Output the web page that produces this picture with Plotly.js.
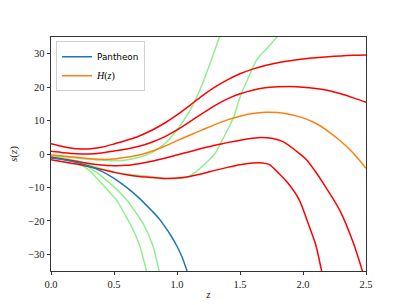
<!DOCTYPE html>
<html>
<head>
<meta charset="utf-8">
<script src="https://cdn.plot.ly/plotly-3.0.1.min.js"></script>
<style>html,body{margin:0;padding:0;background:#fff;}#chart{width:407px;height:305px;}</style>
</head>
<body>
<div id="chart"></div>
<script>
// Pantheon reconstruction
const zPan = [0, 0.1, 0.2, 0.3, 0.4, 0.5, 0.6, 0.7, 0.8, 0.85, 0.9, 0.95, 1.0, 1.04, 1.08];
const sPan = [-1.2, -1.7, -2.5, -3.6, -5.1, -7.3, -10.0, -13.2, -17.0, -19.0, -21.5, -24.3, -27.6, -30.8, -35.0];

// H(z) reconstruction
const zH = [0, 0.2, 0.4, 0.5, 0.6, 0.7, 0.8, 0.9, 1.0, 1.1, 1.2, 1.3, 1.4, 1.5, 1.6, 1.7, 1.8, 1.9, 2.0, 2.1, 2.2, 2.3, 2.4, 2.5];
const sH = [-0.3, -1.0, -1.6, -1.5, -1.0, -0.3, 0.8, 2.3, 4.0, 5.6, 7.2, 8.8, 10.2, 11.3, 12.1, 12.5, 12.4, 11.8, 10.8, 9.2, 6.8, 3.8, 0.2, -4.3];

// red bands
const zR1 = [0, 0.1, 0.2, 0.3, 0.4, 0.5, 0.6, 0.7, 0.8, 0.9, 1.0, 1.1, 1.2, 1.3, 1.4, 1.5, 1.6, 1.7, 1.8, 1.9, 2.0, 2.1, 2.2, 2.3, 2.4, 2.5];
const sR1 = [3.1, 2.2, 1.6, 1.5, 2.0, 3.0, 4.1, 5.4, 7.1, 9.2, 11.7, 14.5, 17.4, 20.0, 22.2, 24.0, 25.4, 26.5, 27.3, 27.9, 28.4, 28.8, 29.1, 29.35, 29.55, 29.65];
const zR2 = [0, 0.1, 0.2, 0.3, 0.4, 0.5, 0.6, 0.7, 0.8, 0.9, 1.0, 1.1, 1.2, 1.3, 1.4, 1.5, 1.6, 1.7, 1.8, 1.9, 2.0, 2.1, 2.2, 2.3, 2.4, 2.5];
const sR2 = [0.8, 0.4, 0.1, 0.0, 0.3, 0.9, 1.5, 2.3, 3.5, 5.1, 7.2, 9.6, 12.1, 14.5, 16.5, 18.0, 19.1, 19.8, 20.1, 20.2, 20.0, 19.6, 19.0, 18.0, 16.8, 15.5];
const zR3 = [0, 0.2, 0.4, 0.5, 0.6, 0.7, 0.8, 0.9, 1.0, 1.1, 1.2, 1.3, 1.4, 1.5, 1.6, 1.66, 1.75, 1.84, 1.97, 2.03, 2.09, 2.16, 2.29, 2.4, 2.475];
const sR3 = [-1.0, -2.2, -3.3, -3.5, -3.4, -2.9, -2.2, -1.3, -0.3, 0.7, 1.7, 2.6, 3.4, 4.1, 4.7, 4.95, 4.7, 3.7, 0.2, -1.8, -4.8, -8.7, -16.7, -26.6, -35.4];
const zR4 = [0, 0.2, 0.4, 0.5, 0.6, 0.7, 0.8, 0.9, 1.0, 1.1, 1.2, 1.3, 1.4, 1.5, 1.6, 1.65, 1.7, 1.74, 1.8, 1.88, 1.97, 2.05, 2.1, 2.15];
const sR4 = [-1.7, -3.0, -4.6, -5.5, -6.2, -6.7, -7.0, -7.3, -7.2, -6.7, -5.9, -4.9, -4.0, -3.2, -2.7, -2.6, -2.8, -3.3, -5.5, -8.7, -13.7, -21.7, -27.0, -35.4];

// green curves
const zGA = [0, 0.1, 0.2, 0.3, 0.4, 0.5, 0.6, 0.7, 0.8, 0.9, 1.0, 1.1, 1.2, 1.25, 1.3, 1.35];
const sGA = [-0.4, -0.8, -1.2, -1.6, -1.9, -2.0, -1.8, -1.0, 0.4, 3.0, 7.2, 12.8, 20.8, 25.8, 31.0, 36.5];
const zGB = [0, 0.2, 0.4, 0.5, 0.6, 0.8, 0.9, 1.0, 1.08, 1.13, 1.18, 1.26, 1.31, 1.34, 1.45, 1.5, 1.58, 1.63, 1.66, 1.7, 1.8];
const sGB = [-0.8, -2.0, -4.4, -5.3, -6.0, -6.8, -7.3, -7.4, -7.0, -5.9, -4.4, -1.6, 0.6, 2.8, 11.0, 17.0, 24.0, 28.0, 29.5, 31.0, 35.3];
const zGC = [0, 0.1, 0.2, 0.3, 0.39, 0.45, 0.52, 0.6, 0.65, 0.7, 0.76];
const sGC = [-0.8, -1.4, -2.6, -4.8, -8.3, -10.8, -13.8, -19.0, -22.5, -27.0, -35.3];
const zGD = [0, 0.1, 0.2, 0.3, 0.39, 0.45, 0.52, 0.6, 0.7, 0.73, 0.81, 0.86];
const sGD = [-0.7, -1.2, -2.3, -4.0, -6.3, -8.2, -10.5, -13.7, -19.0, -20.7, -27.6, -35.3];

const serif = 'Liberation Serif';
const sans = 'DejaVu Sans';

function line(x, y, color, name, show) {
  return {x: x, y: y, type: 'scatter', mode: 'lines', name: name || '', showlegend: !!show,
          hoverinfo: 'skip', line: {color: color, width: 1.5, shape: 'spline', smoothing: 0.7}};
}

const green = '#90ee90';
const red = '#ff0000';
const data = [
  line(zGA, sGA, green), line(zGB, sGB, green), line(zGC, sGC, green), line(zGD, sGD, green),
  line(zR1, sR1, red), line(zR2, sR2, red), line(zR3, sR3, red), line(zR4, sR4, red),
  line(zPan, sPan, '#1f77b4', 'Pantheon', true),
  line(zH, sH, '#ff7f0e', '<span style="font-family:Liberation Serif;font-size:10px"><i>H</i>(<i>z</i>)</span>', true)
];

const layout = {
  width: 407, height: 305,
  margin: {l: 51, r: 41, t: 37, b: 34, pad: 0},
  paper_bgcolor: '#fff', plot_bgcolor: '#fff',
  showlegend: true,
  legend: {x: 0.016, y: 0.982, xanchor: 'left', yanchor: 'top',
           bgcolor: 'rgba(255,255,255,0.8)', bordercolor: '#d0d0d0', borderwidth: 1,
           font: {family: sans, size: 8.8, color: '#000'}, tracegroupgap: 0},
  xaxis: {range: [0, 2.5], tickvals: [0, 0.5, 1.0, 1.5, 2.0, 2.5], ticktext: ['0.0','0.5','1.0','1.5','2.0','2.5'],
          ticks: 'outside', ticklen: 3.5, tickwidth: 0.8, tickcolor: '#000',
          showline: true, linecolor: '#000', linewidth: 0.8, mirror: true,
          showgrid: false, zeroline: false,
          tickfont: {family: serif, size: 10.5, color: '#222'},
          title: {text: '<i>z</i>', font: {family: serif, size: 10, color: '#222'}, standoff: 1}},
  yaxis: {range: [-35, 35], tickvals: [-30, -20, -10, 0, 10, 20, 30],
          ticks: 'outside', ticklen: 3.5, tickwidth: 0.8, tickcolor: '#000',
          showline: true, linecolor: '#000', linewidth: 0.8, mirror: true,
          showgrid: false, zeroline: false,
          tickfont: {family: serif, size: 10.5, color: '#222'},
          title: {text: '<i>s</i>(<i>z</i>)', font: {family: serif, size: 11, color: '#222'}, standoff: 8}}
};

Plotly.newPlot('chart', data, layout, {staticPlot: true, displayModeBar: false});
</script>
</body>
</html>
